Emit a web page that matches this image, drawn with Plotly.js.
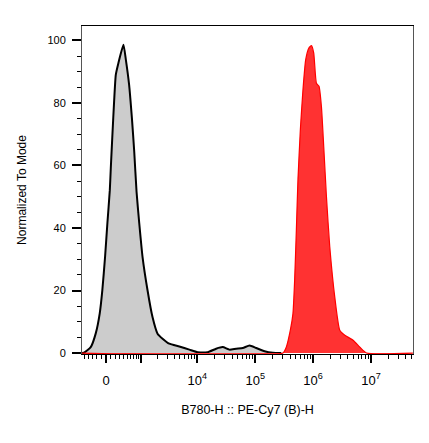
<!DOCTYPE html>
<html>
<head>
<meta charset="utf-8">
<script src="https://cdn.plot.ly/plotly-3.0.1.min.js"></script>
<style>html,body{margin:0;padding:0;background:#fff;}#chart{width:429px;height:443px;}</style>
</head>
<body>
<div id="chart"></div>
<script>
// Fluorescence intensity (B780-H :: PE-Cy7 (B)-H) and normalized counts
const greyIntensity = [-589, -527, -344, -224, -135, -79, -21, 28, 79, 100, 135, 172, 210, 271, 396, 462, 557, 645, 726, 812, 920, 1068, 1328, 1639, 2019, 2479, 3253, 4868, 7266, 10123, 15100, 21115, 27465, 35897, 46879, 61003, 79765, 104198, 145167, 201930, 282225];
const greyCount = [0, 0.1, 1.9, 6.3, 12.7, 20.1, 30.8, 41.6, 52.1, 59.1, 69.8, 80.4, 89.0, 92.8, 98.6, 93.8, 85.8, 75.2, 64.4, 51.6, 41.6, 30.8, 20.1, 11.5, 6.2, 4.6, 3.0, 2.1, 1.1, 0.3, 0.3, 1.4, 1.9, 1.1, 1.4, 1.6, 2.4, 1.6, 0.6, 0.1, 0];

const redIntensity = [-589, 301000, 344700, 404700, 448900, 480400, 514100, 548000, 602900, 668900, 744700, 849600, 934900, 1025000, 1141600, 1266400, 1393600, 1527700, 1701600, 1941700, 2370200, 2893000, 3531700, 4917300, 6425000, 8393000, 53000000];
const redCount = [0, 0, 1.9, 7.3, 12.6, 23.3, 39.3, 55.4, 71.4, 84.2, 93.8, 97.6, 98.3, 96.0, 86.3, 85.3, 78.8, 66.0, 50.0, 34.0, 17.9, 7.3, 5.7, 4.1, 1.9, 0, 0];

// Axis ticks
const majorTicks = [0, 1e3, 1e4, 1e5, 1e6, 1e7];
const majorLabels = ['0', '', '10<sup>4</sup>', '10<sup>5</sup>', '10<sup>6</sup>', '10<sup>7</sup>'];
const yTicks = [0, 20, 40, 60, 80, 100];
const xLimits = [-589, 53000000];

// Biexponential (arcsinh) display scale
const C = 265;
function biex(v) { return Math.asinh(v / (2 * C)) / Math.LN10; }

const minorTicks = [];
[-100, -200, -300, -400, -500].forEach(v => minorTicks.push(v));
for (let k = 1; k < 10; k++) minorTicks.push(k * 100);
[1e3, 1e4, 1e5, 1e6, 1e7].forEach(dec => {
  for (let k = 2; k < 10; k++) { if (k * dec < xLimits[1]) minorTicks.push(k * dec); }
});

const font = 'Liberation Sans, Arial, sans-serif';
const xr = [biex(xLimits[0]), 5.3033];

const traces = [
  {
    x: greyIntensity.map(biex), y: greyCount, type: 'scatter', mode: 'lines',
    line: {color: '#000000', width: 2, shape: 'spline', smoothing: 0.5},
    fill: 'tozeroy', fillcolor: 'rgb(204,204,204)', hoverinfo: 'skip', xaxis: 'x', yaxis: 'y'
  },
  {
    x: redIntensity.map(biex), y: redCount, type: 'scatter', mode: 'lines',
    line: {color: '#ff0000', width: 1.2, shape: 'spline', smoothing: 0.5},
    fill: 'tozeroy', fillcolor: 'rgb(255,50,50)', hoverinfo: 'skip', xaxis: 'x', yaxis: 'y'
  },
  // empty trace so the minor-tick axis is drawn
  {x: [], y: [], type: 'scatter', mode: 'lines', xaxis: 'x2', yaxis: 'y', hoverinfo: 'skip'}
];

const layout = {
  width: 429, height: 443,
  margin: {l: 82, r: 16, t: 26, b: 89},
  paper_bgcolor: '#ffffff', plot_bgcolor: '#ffffff',
  showlegend: false,
  font: {family: font, size: 11, color: '#000'},
  xaxis: {
    range: xr, tickmode: 'array', tickvals: majorTicks.map(biex), ticktext: majorLabels,
    ticks: 'outside', ticklen: 8, tickwidth: 2, tickcolor: '#000',
    showline: true, linecolor: '#000', linewidth: 1, mirror: true,
    showgrid: false, zeroline: false, ticklabelstandoff: 6,
    tickfont: {family: font, size: 13, color: '#000'},
    title: {text: 'B780-H :: PE-Cy7 (B)-H', font: {family: font, size: 12.5, color: '#000'}, standoff: 18}
  },
  xaxis2: {
    range: xr, overlaying: 'x', anchor: 'y', side: 'bottom',
    tickmode: 'array', tickvals: minorTicks.map(biex), showticklabels: false,
    ticks: 'outside', ticklen: 4, tickwidth: 1, tickcolor: '#000',
    showline: false, showgrid: false, zeroline: false
  },
  yaxis: {
    range: [-0.3, 104.6], tickmode: 'array', tickvals: yTicks,
    ticks: 'outside', ticklen: 9, tickwidth: 2, tickcolor: '#000',
    minor: {dtick: 5, ticks: 'outside', ticklen: 4, tickwidth: 1, tickcolor: '#000', showgrid: false},
    showline: true, linecolor: '#555', linewidth: 1, mirror: true,
    showgrid: false, zeroline: false, ticklabelstandoff: 4,
    tickfont: {family: font, size: 11, color: '#000'},
    title: {text: 'Normalized To Mode', font: {family: font, size: 12, color: '#000'}, standoff: 18}
  }
};

Plotly.newPlot('chart', traces, layout, {staticPlot: true, displayModeBar: false});
</script>
</body>
</html>
